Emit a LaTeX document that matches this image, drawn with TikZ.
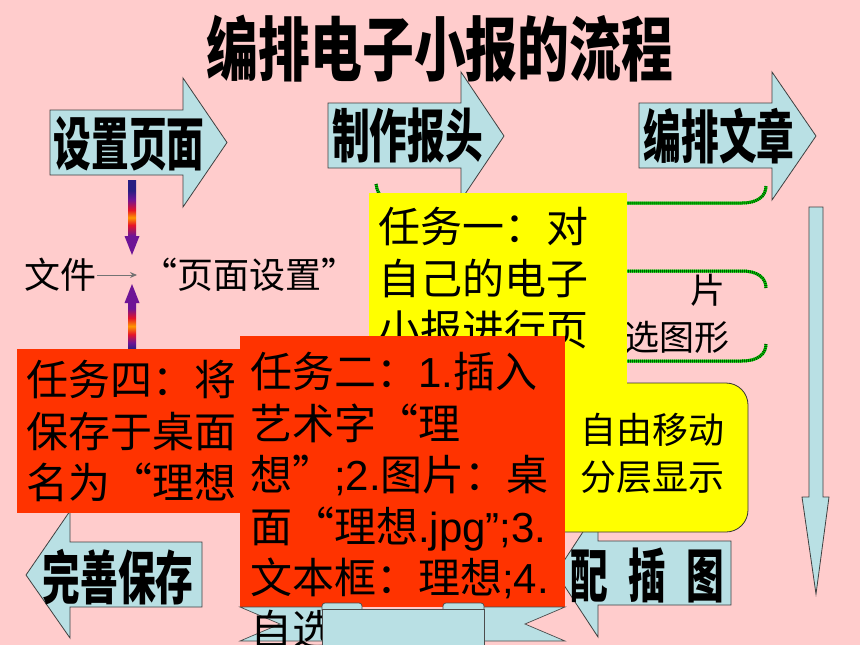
\documentclass[tikz,border=0pt]{standalone}
\usepackage{fontspec}
\usepackage{graphicx}
\setmainfont{Noto Sans CJK SC}
\newfontfamily\latf{Liberation Sans}
\usetikzlibrary{arrows.meta}
\definecolor{bgpink}{RGB}{255,204,204}
\definecolor{arrowblue}{RGB}{185,224,228}
\definecolor{taskred}{RGB}{255,51,0}
\definecolor{taskyellow}{RGB}{255,255,0}
\definecolor{brightgreen}{RGB}{0,230,0}
\definecolor{darkgreen}{RGB}{0,80,0}
\definecolor{gnavy}{RGB}{40,30,130}
\definecolor{gpurple}{RGB}{110,20,150}
\definecolor{gred}{RGB}{230,20,40}
\definecolor{gorange}{RGB}{255,150,0}
\pgfdeclareverticalshading{gradown}{100bp}{color(0bp)=(gpurple); color(25bp)=(gpurple); color(38bp)=(gpurple); color(45bp)=(gred); color(50bp)=(gorange); color(55bp)=(gred); color(62bp)=(gpurple); color(68bp)=(gnavy); color(100bp)=(gnavy)}
\pgfdeclareverticalshading{gradup}{100bp}{color(0bp)=(gnavy); color(27bp)=(gnavy); color(32bp)=(gpurple); color(38bp)=(gred); color(44bp)=(gorange); color(50bp)=(gred); color(57bp)=(gpurple); color(100bp)=(gpurple)}
\newcommand{\qopen}{\makebox[1em][r]{“}}
\newcommand{\qclose}{\makebox[1em][l]{”}}
\newcommand{\arrowlabel}[1]{\scalebox{0.65}[1]{\bfseries\fontsize{58}{60}\selectfont #1}}
\begin{document}
\begin{tikzpicture}[x=1pt,y=-1pt,
  blockarrow/.style={fill=arrowblue,draw=black!75,line width=0.8pt},
  ribbon/.style={fill=arrowblue,draw=black!70,line width=0.7pt},
  greenline/.style={line width=3pt,draw=brightgreen,postaction={draw=darkgreen,line width=3pt,dash pattern=on 1pt off 1pt}},
  lbl/.style={inner sep=0pt},
  tasktext/.style={inner sep=0pt,align=left,anchor=north west,font=\fontsize{42}{51.5}\selectfont},
  plain/.style={inner sep=0pt,font=\fontsize{36}{40}\selectfont}]
\useasboundingbox (0,0) rectangle (860,645);
\fill[bgpink] (0,0) rectangle (860,645);

% title
\node[lbl] (title) at (440,48.5) {\scalebox{0.74}[1]{\bfseries\fontsize{70}{72}\selectfont 编排电子小报的流程}};

% block arrows
\draw[blockarrow] (50,110) -- (183,110) -- (183,78) -- (227,142.5) -- (183,207) -- (183,175) -- (50,175) -- cycle;
\draw[blockarrow] (328,103) -- (461,103) -- (461,72) -- (504,136) -- (461,200) -- (461,168) -- (328,168) -- cycle;
\draw[blockarrow] (639,103) -- (772,103) -- (772,72) -- (816,136) -- (772,200) -- (772,168) -- (639,168) -- cycle;
\draw[blockarrow] (809,207) -- (823,207) -- (823,497) -- (829,497) -- (816,594) -- (802,497) -- (809,497) -- cycle;
\draw[blockarrow] (731,541) -- (598,541) -- (598,509) -- (556,573) -- (598,637) -- (598,605) -- (731,605) -- cycle;
\draw[blockarrow] (202,542) -- (70,542) -- (70,511) -- (26,575) -- (70,638) -- (70,607) -- (202,607) -- cycle;

\node[lbl] (l1) at (129,144) {\arrowlabel{设置页面}};
\node[lbl] (l2) at (407.5,136) {\arrowlabel{制作报头}};
\node[lbl] (l3) at (719,136) {\arrowlabel{编排文章}};
\node[lbl] (l4) at (647.5,575) {\arrowlabel{配\hspace{31pt}插\hspace{31pt}图}};
\node[lbl] (l5) at (118,577) {\arrowlabel{完善保存}};

% green brackets and partly hidden texts
\draw[greenline] (376,184) .. controls (378,198) and (386,203) .. (400,203) -- (742,203) .. controls (758,203) and (766,196) .. (766,186);
\draw[greenline] (600,271) -- (742,271) .. controls (758,271) and (766,278) .. (766,288);
\draw[greenline] (600,361) -- (742,361) .. controls (758,361) and (766,354) .. (766,344);
\node[plain,font=\fontsize{35}{40}\selectfont] (pian) at (708,290) {片};
\node[plain,font=\fontsize{35}{40}\selectfont] (xtx) at (677,337) {选图形};

% gradient arrows and file text
\shade[shading=gradown] (128,180) -- (136,180) -- (136,236) -- (139.5,236) -- (132,255) -- (124.5,236) -- (128,236) -- cycle;
\shade[shading=gradup] (132,284) -- (139.5,303) -- (136,303) -- (136,352) -- (128,352) -- (128,303) -- (124.5,303) -- cycle;
\node[plain] (wj) at (60.5,275) {文件};
\node[plain,anchor=west] (ym) at (141,275) {\qopen 页面设置\qclose};
\draw[-{Stealth[length=7pt,width=6pt]},draw=black!55,line width=1pt,shorten >=4pt] (wj.east) -- (ym.west);

% rounded yellow box
\draw[fill=taskyellow,draw=black!80,line width=0.8pt,rounded corners=22pt] (520,383) rectangle (748,532);
\node[plain,align=center,anchor=north,font=\fontsize{36}{47}\selectfont] (move) at (652,413) {自由移动\\分层显示};

% yellow task box
\fill[taskyellow] (369,193) rectangle (627,400);
\node[tasktext] (t1) at (378,207) {任务一：对\\自己的电子\\小报进行页};

% red task box four
\fill[taskred] (17,349) rectangle (245,513);
\node[tasktext] (t4) at (26,360) {任务四：将\\保存于桌面\\名为\qopen 理想};

% red task box two
\fill[taskred] (240,336) rectangle (565,607);
\draw[ribbon] (240,607) -- (330,607) -- (330,641) -- (240,641) -- (280,624) -- cycle;
\draw[ribbon] (565,607) -- (476,607) -- (476,641) -- (565,641) -- (525,624) -- cycle;
\node[tasktext] (t2) at (250,352) {任务二：{\latf 1.}插入\\艺术字\qopen 理\\想\qclose{\latf ;2.}图片：桌\\面\qopen 理想{\latf .jpg”;3.}\\文本框：理想{\latf ;4.}\\自选图形};
\draw[ribbon,rounded corners=3pt] (322,603) rectangle (362,613);
\draw[ribbon,rounded corners=3pt] (443,603) rectangle (484,613);
\draw[ribbon] (322,609) rectangle (484,650);
\end{tikzpicture}
\end{document}
